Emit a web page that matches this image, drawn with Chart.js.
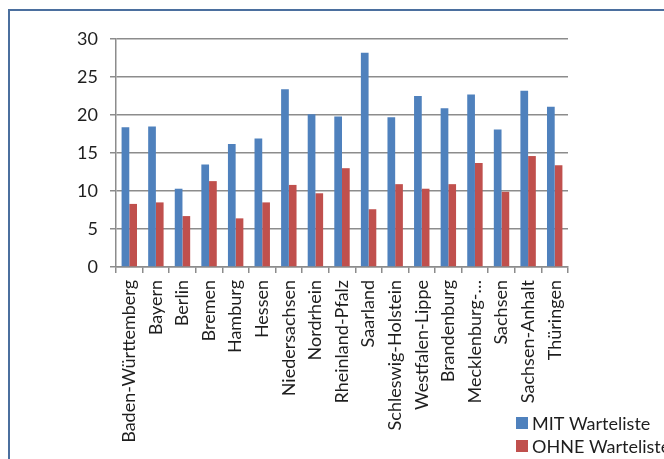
<!DOCTYPE html>
<html>
<head>
<meta charset="utf-8">
<script src="https://cdn.jsdelivr.net/npm/chart.js@4/dist/chart.umd.min.js"></script>
<style>
  html, body { margin: 0; padding: 0; background: #fff; }
  #wrap { position: relative; width: 664px; height: 459px; }
</style>
</head>
<body>
<div id="wrap"><canvas id="c" width="664" height="459"></canvas></div>
<script>
const categories = ["Baden-Württemberg", "Bayern", "Berlin", "Bremen", "Hamburg", "Hessen",
  "Niedersachsen", "Nordrhein", "Rheinland-Pfalz", "Saarland", "Schleswig-Holstein",
  "Westfalen-Lippe", "Brandenburg", "Mecklenburg-…", "Sachsen", "Sachsen-Anhalt", "Thüringen"];
const seriesNames = ["MIT Warteliste", "OHNE Warteliste"];
const mitWarteliste = [18.4, 18.5, 10.3, 13.5, 16.2, 16.9, 23.4, 20.1, 19.8, 28.2, 19.7, 22.5, 20.9, 22.7, 18.1, 23.2, 21.1];
const ohneWarteliste = [8.3, 8.5, 6.7, 11.3, 6.4, 8.5, 10.8, 9.7, 13.0, 7.6, 10.9, 10.3, 10.9, 13.7, 9.9, 14.6, 13.4];
const yTicks = [0, 5, 10, 15, 20, 25, 30];

const FONT = "Lato, 'Open Sans', sans-serif";
const GRID = "#8c8c8c";

const framePlugin = {
  id: "frame",
  beforeDraw(chart) {
    const ctx = chart.ctx;
    ctx.save();
    ctx.strokeStyle = "#4b6f9e";
    ctx.lineWidth = 2;
    ctx.beginPath();
    ctx.moveTo(9, 470);
    ctx.lineTo(9, 10);
    ctx.lineTo(680, 10);
    ctx.stroke();
    ctx.restore();
  },
  afterDraw(chart) {
    const ctx = chart.ctx;
    ctx.save();
    ctx.font = "18px " + FONT;
    ctx.textBaseline = "middle";
    ctx.textAlign = "left";
    chart.data.datasets.forEach((ds, i) => {
      const y = 423 + i * 23;
      ctx.fillStyle = ds.backgroundColor;
      ctx.fillRect(516, y - 6, 12, 12);
      ctx.fillStyle = "#1e1e1e";
      ctx.fillText(ds.label, 532, y + 1);
    });
    ctx.restore();
  }
};

new Chart(document.getElementById("c"), {
  type: "bar",
  data: {
    labels: categories,
    datasets: [
      { label: seriesNames[0], data: mitWarteliste, backgroundColor: "#4f81bd" },
      { label: seriesNames[1], data: ohneWarteliste, backgroundColor: "#c0504d" }
    ]
  },
  options: {
    responsive: false,
    animation: false,
    devicePixelRatio: 1,
    layout: { padding: { left: 0, right: 96, top: 39, bottom: 0 } },
    datasets: { bar: { categoryPercentage: 0.58, barPercentage: 1.0 } },
    plugins: { legend: { display: false }, tooltip: { enabled: false } },
    scales: {
      x: {
        afterFit(scale) { scale.height = 192; },
        grid: { drawOnChartArea: false, drawTicks: true, tickLength: 6, color: GRID, lineWidth: 1.5, offset: true },
        border: { display: true, color: GRID, width: 1.5 },
        ticks: { maxRotation: 90, minRotation: 90, autoSkip: false, padding: 7,
                 color: "#1e1e1e", font: { family: FONT, size: 18 } }
      },
      y: {
        min: 0, max: 30,
        afterFit(scale) { scale.width = 116; },
        afterBuildTicks(scale) { scale.ticks = yTicks.map(v => ({ value: v })); },
        grid: { drawTicks: true, tickLength: 6, color: GRID, lineWidth: 1.5 },
        border: { display: true, color: GRID, width: 1.5 },
        ticks: { padding: 12, color: "#1e1e1e", font: { family: FONT, size: 18 } }
      }
    }
  },
  plugins: [framePlugin]
});
</script>
</body>
</html>
